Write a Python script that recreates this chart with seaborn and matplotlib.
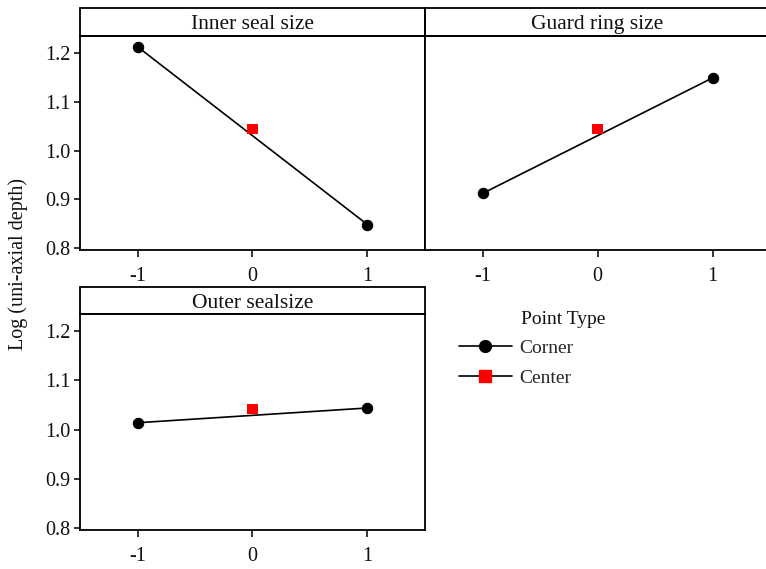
import numpy as np
import pandas as pd
import seaborn as sns
import matplotlib.pyplot as plt
from matplotlib.lines import Line2D
from matplotlib.patches import Rectangle

sns.set_theme(style="ticks")
plt.rcParams["font.family"] = ["Liberation Serif", "DejaVu Serif"]

# corner-point means per factor (levels -1, 1) and center point mean (level 0)
levels = [-1, 1]
factors = ["Inner seal size", "Guard ring size", "Outer sealsize"]
corner_means = {
    "Inner seal size": [1.213, 0.848],
    "Guard ring size": [0.912, 1.149],
    "Outer sealsize": [1.014, 1.044],
}
center_level = [0]
center_means = {
    "Inner seal size": [1.044],
    "Guard ring size": [1.044],
    "Outer sealsize": [1.042],
}
yticks = [0.8, 0.9, 1.0, 1.1, 1.2]
xticks = [-1, 0, 1]

W, H = 766, 569
fig = plt.figure(figsize=(W / 100, H / 100), dpi=100)

# panel boxes in pixels: left, right, strip-bottom (top of data area), bottom, strip height
panels = [
    (80, 425, 36, 250, 28),
    (425, 770, 36, 250, 28),
    (80, 425, 314, 530, 27),
]

lw = 1.3
for i, (name, (l, r, t, b, sh)) in enumerate(zip(factors, panels)):
    ax = fig.add_axes([l / W, (H - b) / H, (r - l) / W, (b - t) / H])
    df_c = pd.DataFrame({"level": levels, "mean": corner_means[name]})
    df_m = pd.DataFrame({"level": center_level, "mean": center_means[name]})
    sns.lineplot(data=df_c, x="level", y="mean", ax=ax, color="black",
                 linewidth=1.2, marker="o", markersize=7.5,
                 markeredgecolor="black", markerfacecolor="black")
    sns.scatterplot(data=df_m, x="level", y="mean", ax=ax, color="red",
                    marker="s", s=60, edgecolor="none", zorder=3)
    ax.set_xlim(-1.5, 1.5)
    ax.set_ylim(0.796, 1.235)
    ax.set_xticks(xticks)
    ax.set_xticklabels([str(v) for v in xticks])
    ax.set_yticks(yticks)
    if i == 1:
        ax.tick_params(axis="y", left=False, labelleft=False)
    else:
        ax.set_yticklabels([f"{v:.1f}" for v in yticks])
    ax.set_xlabel("")
    ax.set_ylabel("")
    ax.tick_params(axis="x", direction="out", length=5, width=1.1,
                   color="black", labelsize=14.5, labelcolor="#111111", pad=7)
    ax.tick_params(axis="y", direction="out", length=4, width=1.1,
                   color="black", labelsize=14.5, labelcolor="#111111", pad=3)
    for s in ax.spines.values():
        s.set_color("black")
        s.set_linewidth(lw)
    # strip header
    hfrac = sh / (b - t)
    ax.add_patch(Rectangle((0, 1), 1, hfrac, transform=ax.transAxes,
                           fill=False, edgecolor="black", linewidth=lw,
                           clip_on=False))
    ax.text(0.5, 1 + hfrac * 0.4, name, transform=ax.transAxes,
            ha="center", va="center", fontsize=15.5, color="#111111")

fig.text(18 / W, (H - 264) / H, "Log (uni-axial depth)", rotation=90,
         ha="center", va="center", fontsize=14.5, color="#111111")

handles = [
    Line2D([0], [0], color="black", lw=1.2, marker="o", markersize=8.5,
           markerfacecolor="black", markeredgecolor="black"),
    Line2D([0], [0], color="black", lw=1.2, marker="s", markersize=8,
           markerfacecolor="red", markeredgecolor="red"),
]
fig.text(521 / W, (H - 319) / H, "Point Type", ha="left", va="center",
         fontsize=14, color="#111111")
fig.legend(handles, ["Corner", "Center"], loc="upper left",
           bbox_to_anchor=(459 / W, (H - 339) / H), frameon=False,
           fontsize=14, handlelength=2.7, handletextpad=0.4,
           labelspacing=0.65, borderaxespad=0, borderpad=0)

fig.savefig("out.png", dpi=100)
